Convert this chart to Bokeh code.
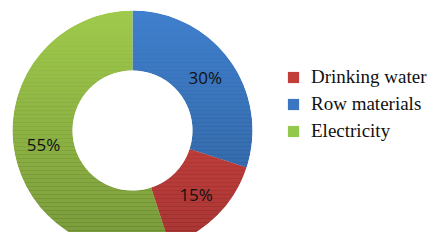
import math
from bokeh.plotting import figure
from bokeh.models import ColumnDataSource, Range1d, Legend, LegendItem
from bokeh.core.properties import value
from bokeh.embed import file_html
from bokeh.resources import INLINE

# data
categories = ["Row materials", "Drinking water", "Electricity"]
shares = [30, 15, 55]
labels = ["30%", "15%", "55%"]
colors = ["#4080CE", "#DC4744", "#A0CB4D"]
legend_colors = ["#3C76C0", "#C33E3B", "#92C94C"]
legend_order = ["Drinking water", "Row materials", "Electricity"]

W, H = 430, 232
cx, cy = 132, 102
r_in, r_out = 60, 120
r_lab = 90

total = sum(shares)
starts, ends, lx, ly = [], [], [], []
a = math.pi / 2
for s in shares:
    sweep = 2 * math.pi * s / total
    starts.append(a)
    ends.append(a - sweep)
    mid = a - sweep / 2
    lx.append(cx + r_lab * math.cos(mid))
    ly.append(cy + r_lab * math.sin(mid))
    a -= sweep

src = ColumnDataSource(dict(cat=categories, start=starts, end=ends, color=colors,
                            lx=lx, ly=ly, lab=labels))

p = figure(width=W, height=H, output_backend="svg", toolbar_location=None,
           x_range=Range1d(0, W), y_range=Range1d(0, H), min_border=0)
p.axis.visible = False
p.grid.visible = False
p.outline_line_color = None
p.background_fill_color = "white"
p.border_fill_color = "white"

for i in range(len(categories)):
    p.annular_wedge(x=cx, y=cy, inner_radius=r_in, outer_radius=r_out,
                    start_angle=starts[i], end_angle=ends[i], direction="clock",
                    fill_color=colors[i], line_color=None)

# vertical shading (lighter at top, darker at bottom)
n = 60
top, bot = cy + r_out, cy - r_out
bh = (top - bot) / n
band_y = [top - bh * (k + 0.5) for k in range(n)]
band_a = [0.24 * (k + 0.5) / n for k in range(n)]
p.hbar(y=band_y, left=cx - r_out - 2, right=cx + r_out + 2, height=bh + 0.3,
       fill_color="black", fill_alpha=band_a, line_color=None)
# masks
p.annulus(x=cx, y=cy, inner_radius=r_out, outer_radius=r_out * 1.5,
          fill_color="white", line_color=None)
p.circle(x=cx, y=cy, radius=r_in, fill_color="white", line_color=None)

p.text(x="lx", y="ly", text="lab", source=src, text_align="center",
       text_baseline="middle", text_font=value("Open Sans"),
       text_font_size="17px", text_color="#111111")

# legend swatches (zero-size wedges, only used for the legend)
legend_renderers = {}
for name in legend_order:
    i = categories.index(name)
    legend_renderers[name] = p.annular_wedge(
        x=cx, y=cy, inner_radius=0, outer_radius=0,
        start_angle=starts[i], end_angle=ends[i], direction="clock",
        fill_color=legend_colors[i], line_color=None)

items = [LegendItem(label=name, renderers=[legend_renderers[name]])
         for name in legend_order]
legend = Legend(items=items, location=(286, 90), padding=0, margin=0,
                border_line_color=None, background_fill_alpha=0,
                glyph_width=14, glyph_height=14, label_height=23, spacing=4,
                label_standoff=11, label_text_font="Liberation Serif",
                label_text_font_size="19px", label_text_color="#111111")
p.add_layout(legend, "center")

open("out.html", "w").write(file_html(p, INLINE))
